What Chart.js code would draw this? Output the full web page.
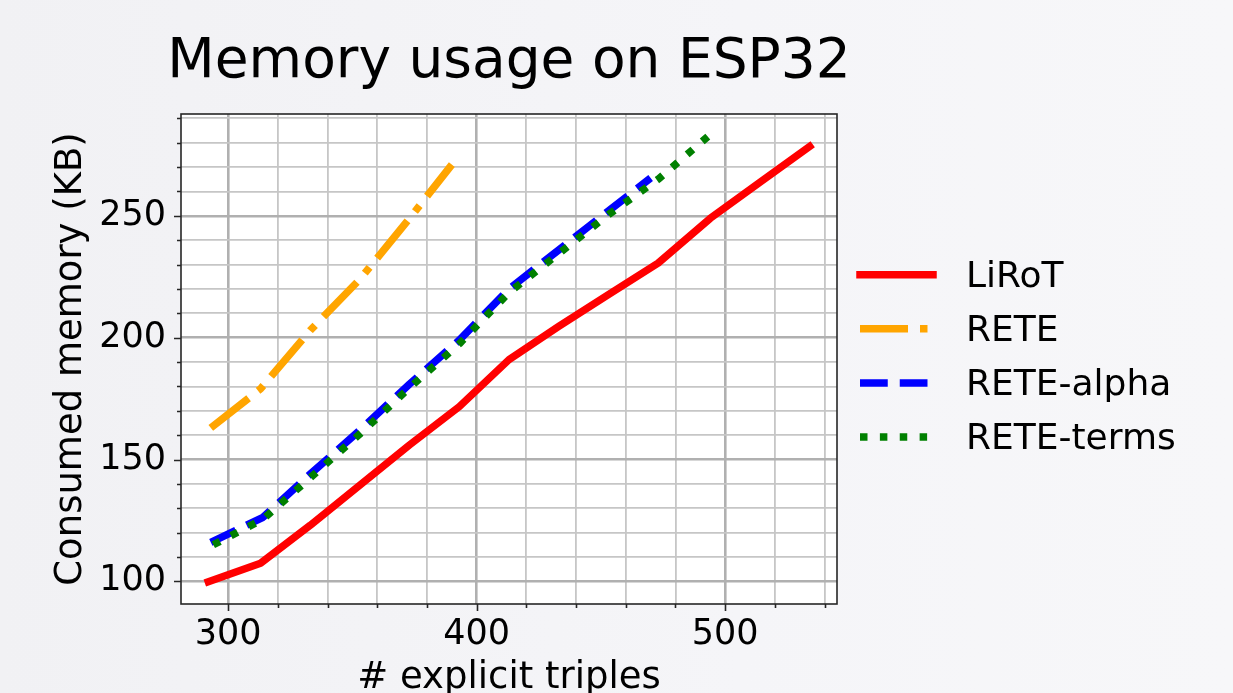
<!DOCTYPE html>
<html><head><meta charset="utf-8">
<script src="https://cdn.jsdelivr.net/npm/chart.js@4.4.1/dist/chart.umd.min.js"></script>
<style>
html,body{margin:0;padding:0;overflow:hidden;background:linear-gradient(90deg,#f1f1f4 0%,#f5f5f8 60%,#f7f7f9 100%);}
canvas{display:block;}
</style></head><body>
<canvas id="c" width="1233" height="693"></canvas>
<script>
// ---- data ----
const chartTitle = 'Memory usage on ESP32';
const xAxisTitle = '# explicit triples';
const yAxisTitle = 'Consumed memory (KB)';
const seriesNames = ['LiRoT', 'RETE', 'RETE-alpha', 'RETE-terms'];

const lirotX = [292, 313, 333, 353, 373, 393, 413, 433, 453, 473, 494, 514, 534];
const lirotY = [99.8, 107.4, 123, 139.5, 156, 171.7, 191, 204.6, 217.7, 230.6, 249, 263.8, 278.5];
const reteX  = [293, 313, 333, 353, 373, 390];
const reteY  = [163, 179, 203, 224, 249, 271];
const alphaX = [293, 314, 333, 353, 373, 393, 413, 433, 453, 470];
const alphaY = [116, 126.3, 144, 162, 181, 199, 220, 236, 252, 265.5];
const termsX = [294, 314, 333, 353, 373, 393, 413, 433, 453, 473, 493];
const termsY = [115, 125.5, 142.5, 160.5, 179.5, 197.5, 218.5, 234.5, 250.5, 265, 282.5];

const xTicks = [300, 320, 340, 360, 380, 400, 420, 440, 460, 480, 500, 520, 540];
const xTickLabels = [300, 400, 500];
const yTicks = [100, 110, 120, 130, 140, 150, 160, 170, 180, 190, 200, 210, 220, 230, 240, 250, 260, 270, 280, 290];
const yTickLabels = [100, 150, 200, 250];

const xRange = [281, 545];
const yRange = [90.7, 291.8];

// ---- styles ----
const LW = 7.5;
const FONT = 'DejaVu Sans';
const MAJOR_GRID = '#b0b0b0', MINOR_GRID = '#c6c6c6';

function pts(xs, ys) { return xs.map((x, i) => ({ x: x, y: ys[i] })); }

const datasets = [
  { label: seriesNames[0], data: pts(lirotX, lirotY), borderColor: '#ff0000', borderDash: [], borderCapStyle: 'square', order: 4 },
  { label: seriesNames[1], data: pts(reteX, reteY), borderColor: '#ffa500', borderDash: [6.4 * LW, 1.6 * LW, 1.0 * LW, 1.6 * LW], borderCapStyle: 'butt', order: 3 },
  { label: seriesNames[2], data: pts(alphaX, alphaY), borderColor: '#0000ff', borderDash: [3.7 * LW, 1.6 * LW], borderCapStyle: 'butt', order: 2 },
  { label: seriesNames[3], data: pts(termsX, termsY), borderColor: '#008000', borderDash: [1.0 * LW, 1.65 * LW], borderCapStyle: 'butt', order: 1 }
].map(d => Object.assign(d, { borderWidth: LW, pointRadius: 0, pointHoverRadius: 0, tension: 0, fill: false, borderJoinStyle: 'round' }));

const plotBg = {
  id: 'plotBg',
  beforeDraw(chart) {
    const { ctx, chartArea: a } = chart;
    ctx.save();
    ctx.fillStyle = '#ffffff';
    ctx.fillRect(a.left, a.top, a.right - a.left, a.bottom - a.top);
    ctx.restore();
  }
};

// Title centred over the plot area (drawn as real text, not squeezed to the plot width)
const plotTitle = {
  id: 'plotTitle',
  afterDraw(chart) {
    const { ctx, chartArea: a } = chart;
    ctx.save();
    ctx.fillStyle = '#000';
    ctx.font = '55px "' + FONT + '"';
    ctx.textAlign = 'center';
    ctx.textBaseline = 'alphabetic';
    ctx.fillText(chartTitle, (a.left + a.right) / 2, 77);
    ctx.restore();
  }
};

const frameAndTicks = {
  id: 'frameAndTicks',
  afterDraw(chart) {
    const { ctx, chartArea: a, scales } = chart;
    ctx.save();
    ctx.strokeStyle = '#262626';
    ctx.lineWidth = 1.6;
    ctx.setLineDash([]);
    ctx.strokeRect(a.left, a.top, a.right - a.left, a.bottom - a.top);
    ctx.beginPath();
    xTicks.forEach(v => {
      const px = Math.round(scales.x.getPixelForValue(v)) + 0.5;
      const len = xTickLabels.includes(v) ? 7 : 4;
      ctx.moveTo(px, a.bottom); ctx.lineTo(px, a.bottom + len);
    });
    yTicks.forEach(v => {
      const py = Math.round(scales.y.getPixelForValue(v)) + 0.5;
      const len = yTickLabels.includes(v) ? 7 : 4;
      ctx.moveTo(a.left, py); ctx.lineTo(a.left - len, py);
    });
    ctx.stroke();
    ctx.restore();
  }
};

const sideLegend = {
  id: 'sideLegend',
  afterDraw(chart) {
    const { ctx, chartArea: a } = chart;
    const x0 = a.right + 23, x1 = a.right + 96, tx = a.right + 129;
    chart.data.datasets.forEach((ds, i) => {
      const y = 274.7 + i * 54.1;
      ctx.save();
      ctx.strokeStyle = ds.borderColor;
      ctx.lineWidth = ds.borderWidth;
      ctx.lineCap = ds.borderCapStyle;
      ctx.setLineDash(ds.borderDash);
      ctx.beginPath(); ctx.moveTo(x0, y); ctx.lineTo(x1, y); ctx.stroke();
      ctx.restore();
      ctx.save();
      ctx.fillStyle = '#000';
      ctx.font = '36px "' + FONT + '"';
      ctx.textBaseline = 'middle';
      ctx.textAlign = 'left';
      ctx.fillText(ds.label, tx, y + 2.7);
      ctx.restore();
    });
  }
};

Chart.defaults.font.family = FONT;
Chart.defaults.color = '#000';

new Chart(document.getElementById('c'), {
  type: 'line',
  data: { datasets: datasets },
  plugins: [plotBg, frameAndTicks, sideLegend, plotTitle],
  options: {
    responsive: false,
    devicePixelRatio: 1,
    animation: false,
    events: [],
    layout: { padding: { left: 0, right: 396, top: 114, bottom: 0 } },
    plugins: {
      legend: { display: false },
      tooltip: { enabled: false },
      title: { display: false }
    },
    scales: {
      x: {
        type: 'linear', min: xRange[0], max: xRange[1],
        afterBuildTicks: s => { s.ticks = xTicks.map(v => ({ value: v })); },
        afterFit: s => { s.height = 89; },
        ticks: {
          autoSkip: false, maxRotation: 0, padding: 10,
          font: { family: FONT, size: 35 }, color: '#000',
          callback: v => xTickLabels.includes(v) ? String(v) : ''
        },
        grid: {
          drawTicks: false,
          color: c => xTickLabels.includes(c.tick.value) ? MAJOR_GRID : MINOR_GRID,
          lineWidth: c => xTickLabels.includes(c.tick.value) ? 2.6 : 1.8
        },
        border: { display: false },
        title: {
          display: true, text: xAxisTitle, color: '#000',
          font: { family: FONT, size: 37, lineHeight: 0.8 },
          padding: { top: 0, bottom: 0 }
        }
      },
      y: {
        type: 'linear', min: yRange[0], max: yRange[1],
        afterBuildTicks: s => { s.ticks = yTicks.map(v => ({ value: v })); },
        afterFit: s => { s.width = 181; },
        ticks: {
          autoSkip: false, padding: 15,
          font: { family: FONT, size: 35 }, color: '#000',
          callback: v => yTickLabels.includes(v) ? String(v) : ''
        },
        grid: {
          drawTicks: false,
          color: c => yTickLabels.includes(c.tick.value) ? MAJOR_GRID : MINOR_GRID,
          lineWidth: c => yTickLabels.includes(c.tick.value) ? 2.6 : 1.8
        },
        border: { display: false },
        title: {
          display: true, text: yAxisTitle, color: '#000',
          font: { family: FONT, size: 37, lineHeight: 1.2 },
          padding: { top: 49, bottom: 0 }
        }
      }
    }
  }
});
</script>
</body></html>
